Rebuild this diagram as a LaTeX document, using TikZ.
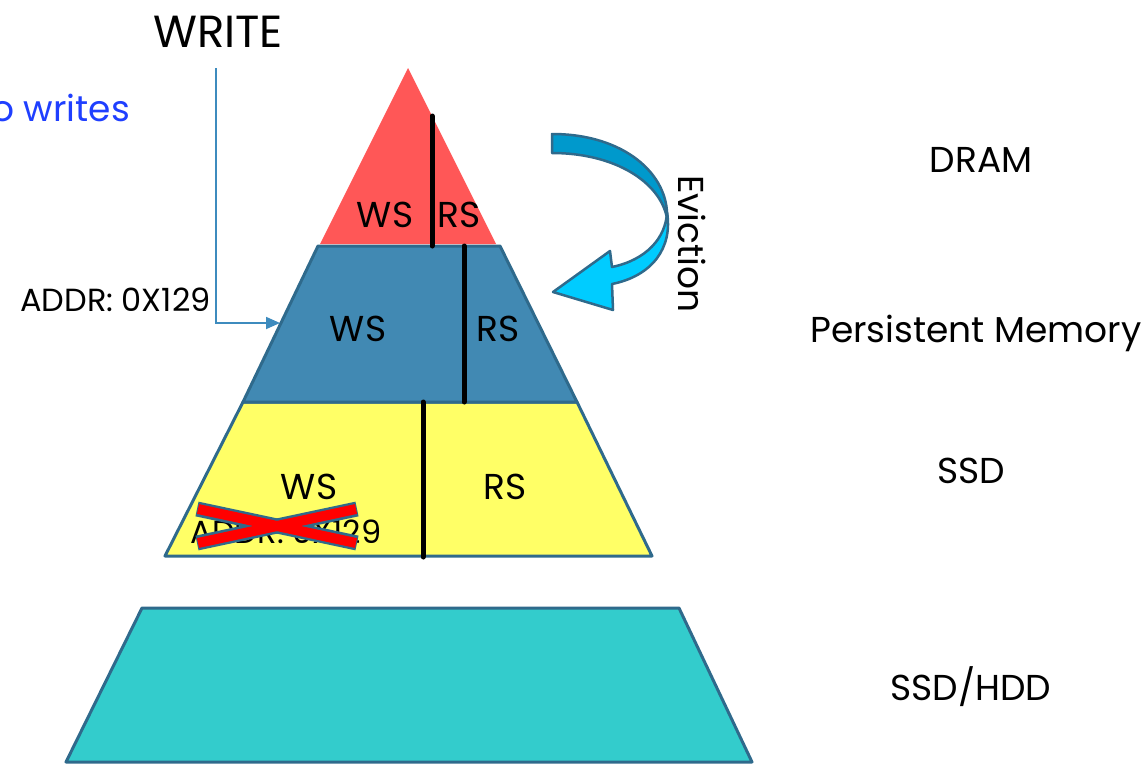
\documentclass[tikz,border=0pt]{standalone}
\usepackage{fontspec}
\setmainfont{Poppins}
\usetikzlibrary{arrows.meta}
\definecolor{dramred}{HTML}{FF5757}
\definecolor{pmblue}{HTML}{4189B3}
\definecolor{ssdyellow}{HTML}{FFFF66}
\definecolor{hddteal}{HTML}{33CCCC}
\definecolor{edgeblue}{HTML}{2F6A8C}
\definecolor{wireblue}{HTML}{3D8BBE}
\definecolor{noteblue}{HTML}{1F3FFF}
\definecolor{evdark}{HTML}{0099CC}
\definecolor{evlight}{HTML}{00CCFF}
\begin{document}
\begin{tikzpicture}[x=1pt,y=-1pt,
  lbl/.style={inner sep=0pt, font=\fontsize{36}{40}\selectfont},
  small/.style={inner sep=0pt, font=\fontsize{32}{36}\selectfont},
  tier/.style={draw=edgeblue, line width=3, line join=round},
  divider/.style={line width=5, line cap=round, black},
  crossedge/.style={edgeblue, line width=15},
  crossfill/.style={red, line width=10}]
\useasboundingbox (0,0) rectangle (1145,763);

% storage tiers
\path[fill=ssdyellow, tier] (243,402) -- (577,402) -- (652,556) -- (165,556) -- cycle;
\path[fill=pmblue, tier] (318,246) -- (500,246) -- (577,402) -- (243,402) -- cycle;
\path[fill=dramred] (408,68) -- (496,244) -- (320,244) -- cycle;
\path[fill=hddteal, tier] (142,608) -- (679,608) -- (752,762) -- (66,762) -- cycle;

% write / read set dividers
\draw[divider] (432,116) -- (432,246);
\draw[divider] (464,246) -- (464,402);
\draw[divider] (423,402) -- (423,557);

% set labels
\node[lbl, anchor=base] (ws1) at (385,227) {WS};
\node[lbl, anchor=base] (rs1) at (459,227) {RS};
\node[lbl, anchor=base] (ws2) at (358,341) {WS};
\node[lbl, anchor=base] (rs2) at (498,341) {RS};
\node[lbl, anchor=base] (ws3) at (309,499) {WS};
\node[lbl, anchor=base] (rs3) at (505,499) {RS};

% stale copy of the address, crossed out
\node[small, anchor=base] (oldaddr) at (286,543) {ADDR: 0X129};
\draw[crossedge] (197,509) -- (357,543);
\draw[crossedge] (197,543) -- (357,509);
\draw[crossfill] (198,509) -- (356,543);
\draw[crossfill] (198,543) -- (356,509);

% incoming write
\node[inner sep=0pt, font=\fontsize{45}{50}\selectfont, anchor=base] (write) at (218,47) {WRITE};
\node[small, anchor=base west] (addr) at (20,311) {ADDR: 0X129};
\node[lbl, anchor=base east, text=noteblue] (note) at (130,121) {to writes};
\coordinate (wstart) at (216,68);
\coordinate (wend) at (280,323);
\draw[wireblue, line width=1.8, -{Triangle[length=14pt,width=12pt]}] (wstart) |- (wend);

% eviction arrow
\filldraw[fill=evdark, draw=edgeblue, line width=2.5, line join=round]
  (552,134) .. controls (625,134) and (669,175) .. (667,218)
  .. controls (660,182) and (615,153) .. (552,153) -- cycle;
\filldraw[fill=evlight, draw=edgeblue, line width=2.5, line join=round]
  (667,212) .. controls (666,238) and (646,260) .. (612,267)
  -- (610,251) -- (553,292) -- (613,310) -- (612,284)
  .. controls (652,276) and (673,248) .. (667,212) -- cycle;
\node[lbl, rotate=-90, anchor=base west] (evict) at (678,175) {Eviction};

% tier names
\node[lbl, anchor=base] (dram) at (981,172) {DRAM};
\node[lbl, anchor=base west] (pm) at (810,342) {Persistent Memory};
\node[lbl, anchor=base] (ssd) at (971,483) {SSD};
\node[lbl, anchor=base] (hdd) at (971,700) {SSD/HDD};
\end{tikzpicture}
\end{document}
